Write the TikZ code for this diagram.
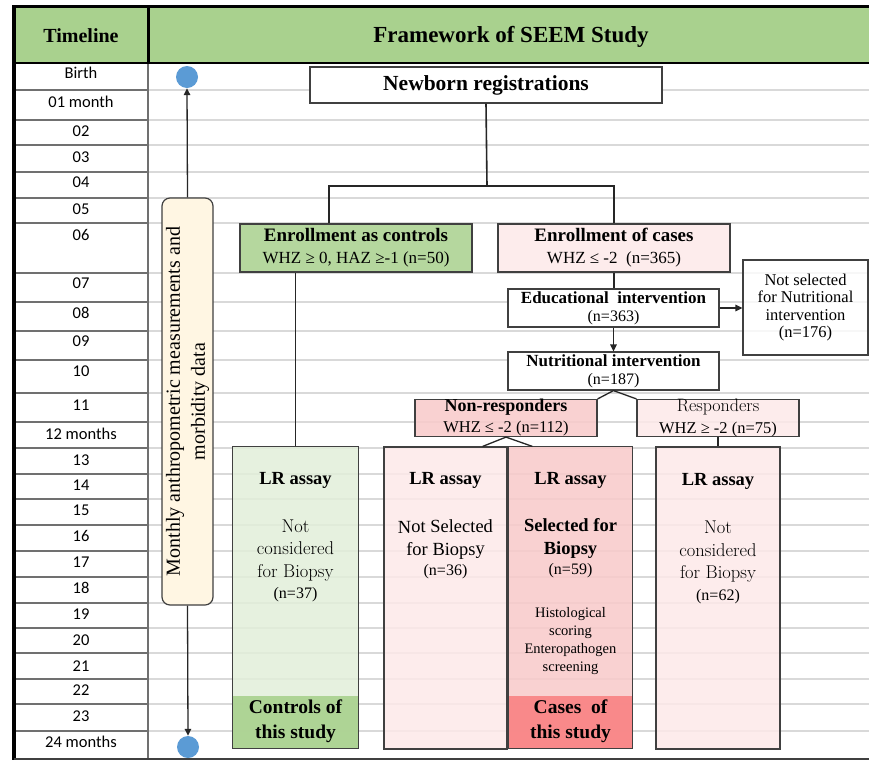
\documentclass[tikz,border=0pt]{standalone}
\usepackage{fontspec}
\setmainfont{Liberation Serif}
\newfontfamily\bodyserif{Liberation Serif}
\newfontfamily\lmr{Latin Modern Roman}
\newfontfamily\tlfont{Carlito}
\usetikzlibrary{arrows.meta}
\definecolor{hdrgreen}{HTML}{A9D18E}
\definecolor{lgreen}{HTML}{E2EFDA}
\definecolor{lpink}{HTML}{FDE9E9}
\definecolor{mpink}{HTML}{F9CACA}
\definecolor{dpink}{HTML}{F98283}
\definecolor{bdr}{HTML}{404040}
\definecolor{gridc}{HTML}{D9D9D9}
\definecolor{rowc}{HTML}{707070}
\definecolor{cream}{HTML}{FFF6E3}
\definecolor{dotblue}{HTML}{5B9BD5}
\begin{document}
\begin{tikzpicture}[x=1pt,y=-1pt,
  gridl/.style={gridc, line width=1.6pt},
  rowl/.style={rowc, line width=1.5pt},
  wbox/.style={draw=bdr, line width=1.2pt, fill=white, inner sep=0pt, align=center},
  tbox/.style={draw=bdr, line width=1.2pt, fill=white, fill opacity=0.8, text opacity=1, inner sep=0pt, align=center},
  cbox/.style={draw=bdr, line width=1.2pt, fill opacity=0.85, text opacity=1, inner sep=0pt, align=center},
  conn/.style={draw=black!85, line width=1.3pt},
  arr/.style={conn, -{Triangle[length=7pt,width=6.5pt]}},
  tl/.style={font=\tlfont\fontsize{16.5}{18}\selectfont, inner sep=0pt},
  lrt/.style={inner sep=0pt, font=\bfseries\fontsize{18.5}{22}\selectfont},
  lmbody/.style={inner sep=0pt, align=center, font=\lmr\fontsize{18.5}{22.5}\selectfont},
  smallt/.style={inner sep=0pt, align=center, font=\bodyserif\fontsize{16}{20}\selectfont},
  rest/.style={inner sep=0pt, align=center, font=\bfseries\fontsize{19.5}{25}\selectfont},
  dot/.style={circle, fill=dotblue, minimum size=22pt, inner sep=0pt}
]
\useasboundingbox (0,0) rectangle (869,761);
\fill[white] (0,0) rectangle (869,761);
% header
\fill[hdrgreen] (14,8) rectangle (869,63);
% gridlines
\foreach \y in {90,120,145,172,198,223,273,302,331,360,393,422,448,474,499,525,551,577,603,628,653,679,704,731}
  \draw[gridl] (149,\y) -- (869,\y);
\foreach \y in {90,120,145,172,198,223,273,302,331,360,393,422,448,474,499,525,551,577,603,628,653,679,704,731}
  \draw[rowl] (14,\y) -- (148,\y);
\draw[rowl] (148,63) -- (148,758);
% frame
\draw[line width=3pt] (12,6.5) -- (869,6.5);
\draw[line width=3.5pt] (14,5) -- (14,760);
\draw[line width=2.5pt] (14,63) -- (869,63);
\draw[line width=3pt] (148,8) -- (148,63);
\draw[line width=2pt, bdr] (14,759) -- (869,759);
% header text
\node[font=\bfseries\fontsize{20}{24}\selectfont, inner sep=0pt] (hdtl) at (81,36) {Timeline};
\node[font=\bfseries\fontsize{23}{26}\selectfont, inner sep=0pt] (hdfw) at (511,37) {Framework of SEEM Study};
% timeline labels
\foreach \y/\lab [count=\i] in {73/Birth,102/01 month,131/02,157/03,182/04,209/05,235/06,283/07,313/08,341/09,371/10,405/11,434/12 months,460/13,485/14,510/15,536/16,562/17,588/18,614/19,640/20,666/21,690/22,716/23,742/24 months}
  \node[tl] (t\i) at (81,\y) {\lab};
% timeline arrow element
\node[dot] (c1) at (187,77) {};
\node[dot] (c2) at (188,747) {};
\node[draw=bdr, line width=1.2pt, fill=cream, rounded corners=8pt, minimum width=51pt, minimum height=407pt, inner sep=0pt] (ym) at (187.5,401.5) {};
\node[rotate=90, align=center, inner sep=0pt, font=\bodyserif\fontsize{20}{25}\selectfont] (ymt) at (ym.center) {Monthly anthropometric measurements and\\morbidity data};
\draw[arr] (ym.north) -- (c1.south);
\draw[arr] (ym.south) -- (c2.north);
% flow boxes
\node[wbox, minimum width=352pt, minimum height=36pt, font=\bfseries\fontsize{21.5}{24}\selectfont] (nb) at (486,85) {Newborn registrations};
\node[cbox, fill=hdrgreen, minimum width=232pt, minimum height=48pt, font=\bodyserif\fontsize{17}{22}\selectfont] (ctl) at (356,248)
  {{\bfseries\fontsize{19}{22}\selectfont Enrollment as controls}\\WHZ ≥ 0, HAZ ≥-1 (n=50)};
\node[cbox, fill=lpink, minimum width=232pt, minimum height=48pt, font=\bodyserif\fontsize{17}{22}\selectfont] (cas) at (614,248)
  {{\bfseries\fontsize{19}{22}\selectfont Enrollment of cases}\\WHZ ≤ -2\ \ (n=365)};
\node[wbox, minimum width=211pt, minimum height=38pt, font=\bodyserif\fontsize{16}{18}\selectfont] (edu) at (613.5,308)
  {{\bfseries\fontsize{17}{18}\selectfont Educational\ \ intervention}\\(n=363)};
\node[tbox, minimum width=125pt, minimum height=95pt, font=\bodyserif\fontsize{16.5}{17.5}\selectfont] (nsel) at (805.5,307.5)
  {Not selected\\for Nutritional\\intervention\\(n=176)};
\node[wbox, minimum width=211pt, minimum height=38pt, font=\bodyserif\fontsize{16}{18}\selectfont] (nut) at (613.5,371)
  {{\bfseries\fontsize{17}{18}\selectfont Nutritional intervention}\\(n=187)};
\node[cbox, fill=mpink, minimum width=182pt, minimum height=36pt, font=\bodyserif\fontsize{16.5}{21}\selectfont] (nonr) at (506,418)
  {{\bfseries\fontsize{18}{21}\selectfont Non-responders}\\WHZ ≤ -2 (n=112)};
\node[cbox, fill=lpink, minimum width=162pt, minimum height=36pt, font=\bodyserif\fontsize{16.5}{21}\selectfont] (resp) at (718,418)
  {{\lmr\fontsize{18}{21}\selectfont Responders}\\WHZ ≥ -2 (n=75)};
% LR boxes
\node[cbox, draw=none, fill=lgreen, minimum width=125pt, minimum height=301pt] (lr1) at (295.5,597.5) {};
\node[cbox, fill=lpink, minimum width=123pt, minimum height=302pt] (lr2) at (445.5,598) {};
\node[cbox, draw=none, fill=mpink, minimum width=123pt, minimum height=301pt] (lr3) at (570.5,597.5) {};
\node[cbox, fill=lpink, minimum width=124pt, minimum height=302pt] (lr4) at (718,598) {};
\fill[hdrgreen, fill opacity=0.9] (lr1.south west) rectangle ([yshift=53pt]lr1.south east);
\fill[dpink, fill opacity=0.9] (lr3.south west) rectangle ([yshift=53pt]lr3.south east);
\draw[draw=bdr, line width=1.2pt] (lr1.south west) rectangle (lr1.north east);
\draw[draw=bdr, line width=1.2pt] (lr3.south west) rectangle (lr3.north east);
% LR texts
\node[lrt] (l1a) at (295.5,480) {LR assay};
\node[lrt] (l2a) at (445.5,480) {LR assay};
\node[lrt] (l3a) at (570.5,480) {LR assay};
\node[lrt] (l4a) at (718,481) {LR assay};
\node[lmbody] (l1b) at (295.5,550.5) {Not\\considered\\for Biopsy};
\node[smallt] (l1c) at (295.5,595) {(n=37)};
\node[inner sep=0pt, align=center, rotate=0.4, font=\bodyserif\fontsize{18.5}{22.5}\selectfont] (l2b) at (445.5,539.5) {Not Selected\\for Biopsy};
\node[smallt] (l2c) at (445.5,572) {(n=36)};
\node[inner sep=0pt, align=center, font=\bfseries\fontsize{18.5}{23}\selectfont] (l3b) at (570.5,538.5) {Selected for\\Biopsy};
\node[smallt] (l3c) at (570.5,571) {(n=59)};
\node[inner sep=0pt, align=center, font=\bodyserif\fontsize{14.5}{18}\selectfont] (l3d) at (570.5,641) {Histological\\scoring\\Enteropathogen\\screening};
\node[lmbody] (l4b) at (718,552) {Not\\considered\\for Biopsy};
\node[smallt] (l4c) at (718,597) {(n=62)};
\node[rest] (r1) at (295.5,721.5) {Controls of\\this study};
\node[rest] (r3) at (570.5,721.5) {Cases\ \ of\\this study};
% connectors
\coordinate (j) at (487,186);
\draw[conn, line width=1.6pt] (nb.south) -- (j);
\draw[conn] ([xshift=-27pt]ctl.north) |- (j) -| (cas.north);
\draw[conn] (lr1.north) -- (lr1.north |- ctl.south);
\draw[conn] (cas.south) -- (cas.south |- edu.north);
\draw[arr] (edu.south) -- (nut.north);
\draw[arr] (edu.east) -- (edu.east -| nsel.west);
\draw[conn] (nonr.north east) -- (nut.south) -- (resp.north west);
\draw[conn] ([xshift=-25pt]lr2.north east) -- (nonr.south) -- ([xshift=24pt]lr3.north west);
\draw[conn] (resp.south) -- (lr4.north);
\end{tikzpicture}
\end{document}
